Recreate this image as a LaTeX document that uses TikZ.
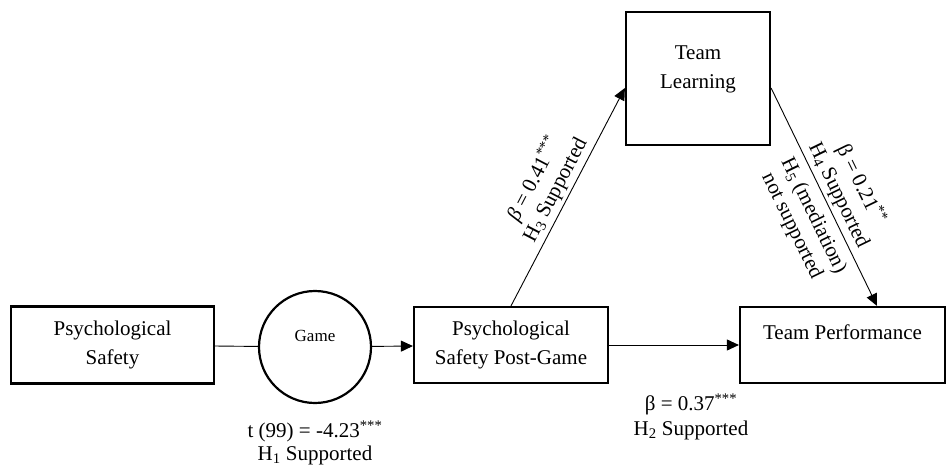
\documentclass[tikz,border=0pt]{standalone}
\usepackage{fontspec}
\setmainfont{Liberation Serif}
\usetikzlibrary{arrows.meta}
\tikzset{
  boxnode/.style={draw, line width=2.2pt, align=center, inner sep=0pt,
    font=\fontsize{21}{29}\selectfont},
  gamenode/.style={draw, circle, line width=2.2pt, align=center, inner sep=0pt,
    minimum size=112pt, font=\fontsize{17}{20}\selectfont},
  conn/.style={line width=0.9pt},
  arr/.style={conn, -{Triangle[length=12pt,width=11pt]}},
  lbl/.style={align=center, font=\fontsize{21}{24}\selectfont}
}
\begin{document}
\begin{tikzpicture}[x=1pt,y=-1pt]
\useasboundingbox (0,0) rectangle (947,468);
\node[boxnode, minimum width=203pt, minimum height=77pt] (ps) at (112.5,345) {Psychological\\Safety};
\node[gamenode] (game) at (315,347) {Game\\[2pt]\mbox{}};
\node[boxnode, minimum width=194pt, minimum height=76pt] (pspg) at (511,345) {Psychological\\Safety Post-Game};
\node[boxnode, minimum width=205pt, minimum height=76pt] (tp) at (842.5,345) {Team Performance\\[-4pt]\mbox{}};
\node[boxnode, minimum width=144pt, minimum height=133pt] (tl) at (698,78.5) {Team\\Learning\\[-6pt]\mbox{}};

\draw[conn] (ps) -- (game);
\draw[arr] (game) -- (pspg);
\draw[arr] (pspg) -- (tp);
\draw[arr] (pspg.north) -- node[lbl, sloped, above, midway] {{\itshape β} = 0.41\textsuperscript{***}\\H\textsubscript{3} Supported} ([yshift=-9.5pt]tl.west);
\draw[arr] ([yshift=-9.5pt]tl.east) --
  node[lbl, sloped, above, pos=0.52] {β = 0.21\textsuperscript{**}\\H\textsubscript{4} Supported}
  node[lbl, sloped, below, pos=0.55, inner sep=8pt] {H\textsubscript{5} (mediation)\\not supported}
  ([xshift=34.5pt]tp.north);

\node[lbl, font=\fontsize{21}{23}\selectfont] (h1) at (315,443) {t (99) = -4.23\textsuperscript{***}\\H\textsubscript{1} Supported};
\node[lbl, font=\fontsize{21}{25}\selectfont] (h2) at (691,417) {β = 0.37\textsuperscript{***}\\H\textsubscript{2} Supported};
\end{tikzpicture}
\end{document}
